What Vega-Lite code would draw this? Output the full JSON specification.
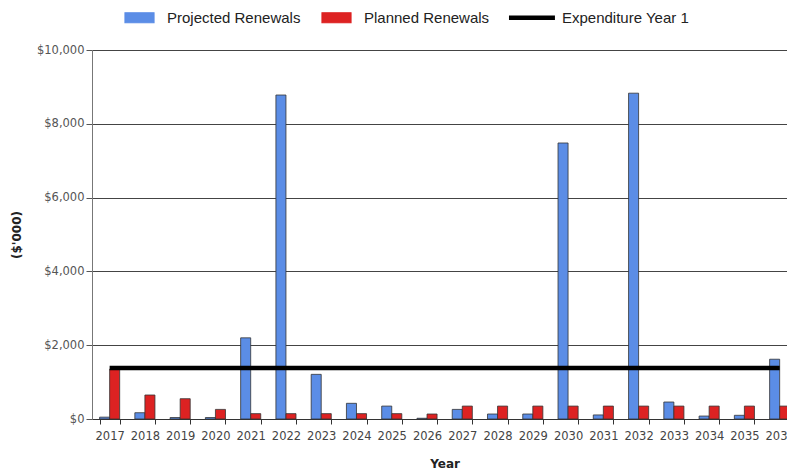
{
  "$schema": "https://vega.github.io/schema/vega-lite/v6.json",
  "autosize": "none",
  "width": 695,
  "height": 369,
  "padding": {"left": 92, "top": 50, "right": 0, "bottom": 54},
  "background": "white",
  "config": {"view": {"stroke": null}},
  "datasets": {
    "bars": [
      {"year": "2017", "series": "Projected Renewals", "value": 50},
      {"year": "2018", "series": "Projected Renewals", "value": 170},
      {"year": "2019", "series": "Projected Renewals", "value": 40},
      {"year": "2020", "series": "Projected Renewals", "value": 40},
      {"year": "2021", "series": "Projected Renewals", "value": 2200},
      {"year": "2022", "series": "Projected Renewals", "value": 8780},
      {"year": "2023", "series": "Projected Renewals", "value": 1210},
      {"year": "2024", "series": "Projected Renewals", "value": 425},
      {"year": "2025", "series": "Projected Renewals", "value": 350},
      {"year": "2026", "series": "Projected Renewals", "value": 20},
      {"year": "2027", "series": "Projected Renewals", "value": 260},
      {"year": "2028", "series": "Projected Renewals", "value": 135},
      {"year": "2029", "series": "Projected Renewals", "value": 135},
      {"year": "2030", "series": "Projected Renewals", "value": 7480},
      {"year": "2031", "series": "Projected Renewals", "value": 110},
      {"year": "2032", "series": "Projected Renewals", "value": 8830},
      {"year": "2033", "series": "Projected Renewals", "value": 460},
      {"year": "2034", "series": "Projected Renewals", "value": 80},
      {"year": "2035", "series": "Projected Renewals", "value": 100},
      {"year": "2036", "series": "Projected Renewals", "value": 1620},
      {"year": "2017", "series": "Planned Renewals", "value": 1350},
      {"year": "2018", "series": "Planned Renewals", "value": 650},
      {"year": "2019", "series": "Planned Renewals", "value": 550},
      {"year": "2020", "series": "Planned Renewals", "value": 260},
      {"year": "2021", "series": "Planned Renewals", "value": 145},
      {"year": "2022", "series": "Planned Renewals", "value": 145},
      {"year": "2023", "series": "Planned Renewals", "value": 145},
      {"year": "2024", "series": "Planned Renewals", "value": 145},
      {"year": "2025", "series": "Planned Renewals", "value": 145},
      {"year": "2026", "series": "Planned Renewals", "value": 135},
      {"year": "2027", "series": "Planned Renewals", "value": 350},
      {"year": "2028", "series": "Planned Renewals", "value": 350},
      {"year": "2029", "series": "Planned Renewals", "value": 350},
      {"year": "2030", "series": "Planned Renewals", "value": 350},
      {"year": "2031", "series": "Planned Renewals", "value": 350},
      {"year": "2032", "series": "Planned Renewals", "value": 350},
      {"year": "2033", "series": "Planned Renewals", "value": 350},
      {"year": "2034", "series": "Planned Renewals", "value": 350},
      {"year": "2035", "series": "Planned Renewals", "value": 350},
      {"year": "2036", "series": "Planned Renewals", "value": 350}
    ],
    "expenditure": [
      {"year": "2017", "series": "Expenditure Year 1", "value": 1380},
      {"year": "2036", "series": "Expenditure Year 1", "value": 1380}
    ]
  },
  "layer": [
    {
      "data": {"name": "bars"},
      "mark": {"type": "bar", "stroke": "#333", "strokeWidth": 0.8, "clip": true},
      "encoding": {
        "x": {
          "field": "year", "type": "ordinal",
          "scale": {"range": [0, 705.3], "paddingInner": 0.43, "paddingOuter": 0.215},
          "axis": {
            "title": "Year", "titleFont": "DejaVu Sans", "titleFontSize": 12, "titleFontWeight": "bold", "titleColor": "#222", "titlePadding": 17,
            "labelFont": "DejaVu Sans", "labelFontSize": 11.5, "labelColor": "#444", "labelAngle": 0, "labelPadding": 6,
            "tickBand": "extent", "tickSize": 5, "tickColor": "#333", "domainColor": "#333", "grid": false
          }
        },
        "xOffset": {"field": "series", "type": "nominal", "scale": {"domain": ["Projected Renewals", "Planned Renewals"]}},
        "y": {
          "field": "value", "type": "quantitative",
          "scale": {"domain": [0, 10000], "nice": false},
          "axis": {
            "title": "($'000)", "titleFont": "DejaVu Sans", "titleFontSize": 12, "titleFontWeight": "bold", "titleColor": "#222", "titlePadding": 13,
            "labelFont": "DejaVu Sans", "labelFontSize": 11.5, "labelColor": "#555", "format": "$,.0f",
            "values": [0, 2000, 4000, 6000, 8000, 10000], "tickSize": 6, "tickColor": "#555", "domainColor": "#777",
            "grid": true, "gridColor": "#444", "gridWidth": 1, "labelPadding": 2
          }
        },
        "color": {
          "field": "series", "type": "nominal",
          "scale": {"domain": ["Projected Renewals", "Planned Renewals", "Expenditure Year 1"], "range": ["#5B8DE6", "#DD2222", "#000000"]},
          "legend": {
            "orient": "none", "legendX": 40, "legendY": -40, "direction": "horizontal", "title": null,
            "labelFont": "Liberation Sans", "labelFontSize": 15, "labelColor": "#222", "symbolSize": 841,
            "labelOffset": 20, "columnPadding": 18, "symbolStrokeWidth": 1.2, "symbolStrokeColor": "#333",
            "encode": {
              "symbols": {
                "update": {
                  "shape": {"signal": "datum.value === 'Expenditure Year 1' ? 'M-1.76,-0.155H1.41V0.155H-1.76Z' : 'M-1,-0.345H1V0.345H-1Z'"},
                  "strokeWidth": {"signal": "datum.value === 'Expenditure Year 1' ? 0 : 1.2"},
                  "stroke": {"signal": "datum.value === 'Expenditure Year 1' ? '#000' : '#333'"}
                }
              }
            }
          }
        }
      }
    },
    {
      "data": {"name": "expenditure"},
      "mark": {"type": "line", "strokeWidth": 4.5, "clip": true},
      "encoding": {
        "x": {"field": "year", "type": "ordinal"},
        "y": {"field": "value", "type": "quantitative"},
        "color": {"field": "series", "type": "nominal"}
      }
    }
  ]
}
